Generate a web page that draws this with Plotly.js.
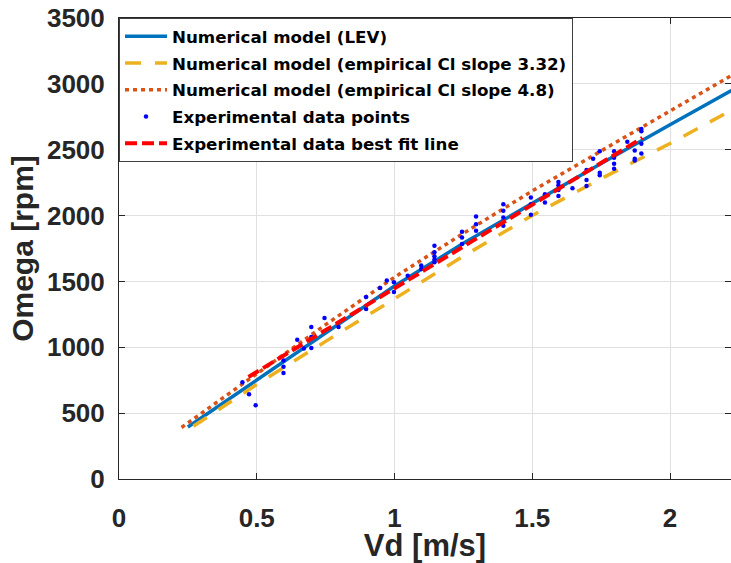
<!DOCTYPE html>
<html>
<head>
<meta charset="utf-8">
<script src="https://cdn.plot.ly/plotly-3.0.1.min.js"></script>
<style>html,body{margin:0;padding:0;background:#fff;}#chart{width:731px;height:563px;}</style>
</head>
<body>
<div id="chart"></div>
<script>
// Numerical model (LEV)
const levX = [0.25, 0.5, 0.75, 1.0, 1.25, 1.5, 1.75, 2.0, 2.25];
const levY = [395, 754, 1112, 1465, 1790, 2096, 2396, 2689, 2981];
// Numerical model (empirical Cl slope 3.32)
const cl332X = [0.27, 0.5, 0.75, 1.0, 1.25, 1.5, 1.75, 2.0, 2.25];
const cl332Y = [400, 718, 1045, 1370, 1692, 2001, 2280, 2547, 2830];
// Numerical model (empirical Cl slope 4.8)
const cl48X = [0.227, 0.5, 0.75, 1.0, 1.25, 1.5, 1.75, 2.0, 2.25];
const cl48Y = [391, 801, 1172, 1532, 1865, 2187, 2494, 2794, 3096];
// Experimental data points
const expX = [0.448, 0.472, 0.496, 0.597, 0.597, 0.597, 0.647, 0.671, 0.698, 0.698, 0.698, 0.746, 0.797,
  0.897, 0.897, 0.948, 0.972, 0.998, 0.998, 1.048, 1.097, 1.097,
  1.145, 1.145, 1.145, 1.145, 1.145, 1.245, 1.245, 1.245, 1.296, 1.296, 1.296,
  1.395, 1.395, 1.395, 1.395, 1.495, 1.495, 1.495, 1.546, 1.546,
  1.595, 1.595, 1.595, 1.595, 1.646, 1.697, 1.697, 1.697, 1.721, 1.745, 1.745, 1.745,
  1.797, 1.797, 1.797, 1.797, 1.845, 1.872, 1.872, 1.872, 1.896, 1.896, 1.896, 1.896];
const expY = [735, 643, 560, 900, 853, 805, 1058, 990, 1154, 1079, 995, 1222, 1154,
  1381, 1290, 1451, 1507, 1494, 1419, 1544, 1620, 1595,
  1771, 1721, 1691, 1666, 1646, 1877, 1834, 1784, 1993, 1935, 1884,
  2086, 2036, 1986, 1922, 2137, 2086, 2006, 2162, 2099,
  2255, 2230, 2194, 2149, 2207, 2346, 2270, 2225, 2432, 2489, 2326, 2306,
  2489, 2439, 2394, 2356, 2560, 2494, 2432, 2419, 2658, 2640, 2545, 2472];
// Experimental data best fit line
const fitX = [0.47, 1.9];
const fitY = [775, 2590];

const xTicks = [0, 0.5, 1, 1.5, 2];
const xTickText = ['0', '0.5', '1', '1.5', '2'];
const yTicks = [0, 500, 1000, 1500, 2000, 2500, 3000, 3500];
const yTickText = ['0', '500', '1000', '1500', '2000', '2500', '3000', '3500'];

const FONT = 'Liberation Sans, Arial, Helvetica, sans-serif';
const LFONT = 'DejaVu Sans, Liberation Sans, Arial, sans-serif';
const INK = '#262626';

const traces = [
  {x: levX, y: levY, mode: 'lines', name: 'Numerical model (LEV)', legendgroup: 'a',
   line: {color: '#0072BD', width: 3.5}},
  {x: cl332X, y: cl332Y, mode: 'lines', name: 'Numerical model (empirical Cl slope 3.32)', legendgroup: 'b',
   line: {color: '#EDB120', width: 3.5, dash: '16px,14px'}},
  {x: cl48X, y: cl48Y, mode: 'lines', name: 'Numerical model (empirical Cl slope 4.8)', legendgroup: 'c',
   line: {color: '#D95319', width: 3.5, dash: '4px,4px'}},
  {x: expX, y: expY, mode: 'markers', name: 'Experimental data points', legendgroup: 'd',
   marker: {color: '#0000FF', size: 4.5}},
  {x: fitX, y: fitY, mode: 'lines', name: 'Experimental data best fit line', legendgroup: 'e',
   line: {color: '#FF0000', width: 4, dash: '12px,5px'}}
];

const layout = {
  width: 731, height: 563,
  margin: {l: 119, r: 0, t: 18, b: 84, pad: 0},
  paper_bgcolor: '#fff', plot_bgcolor: '#fff',
  font: {family: FONT, color: INK, weight: 'bold'},
  showlegend: true,
  legend: {x: 0, y: 1, xanchor: 'left', yanchor: 'top', bgcolor: '#fff',
    bordercolor: '#404040', borderwidth: 1, itemwidth: 42, tracegroupgap: 2,
    font: {family: LFONT, size: 16.7, color: '#000', weight: 'bold'}},
  xaxis: {range: [0, 2.2214], tickvals: xTicks, ticktext: xTickText,
    showline: true, linecolor: INK, linewidth: 1, mirror: 'ticks',
    ticks: 'inside', ticklen: 6, tickcolor: INK, tickwidth: 1,
    showgrid: true, gridcolor: '#e0e0e0', gridwidth: 1, zeroline: false,
    ticklabelstandoff: 16,
    tickfont: {family: FONT, size: 26, color: INK, weight: 'bold'},
    title: {text: 'Vd [m/s]', font: {family: FONT, size: 31, color: INK, weight: 'bold'}, standoff: 10}},
  yaxis: {range: [0, 3500], tickvals: yTicks, ticktext: yTickText,
    showline: true, linecolor: INK, linewidth: 1, mirror: 'ticks',
    ticks: 'inside', ticklen: 6, tickcolor: INK, tickwidth: 1,
    showgrid: true, gridcolor: '#e0e0e0', gridwidth: 1, zeroline: false,
    ticklabelstandoff: 8,
    tickfont: {family: FONT, size: 26, color: INK, weight: 'bold'},
    title: {text: 'Omega [rpm]', font: {family: FONT, size: 30, color: INK, weight: 'bold'}, standoff: 4}}
};

Plotly.newPlot('chart', traces, layout, {staticPlot: true, displayModeBar: false});
</script>
</body>
</html>
